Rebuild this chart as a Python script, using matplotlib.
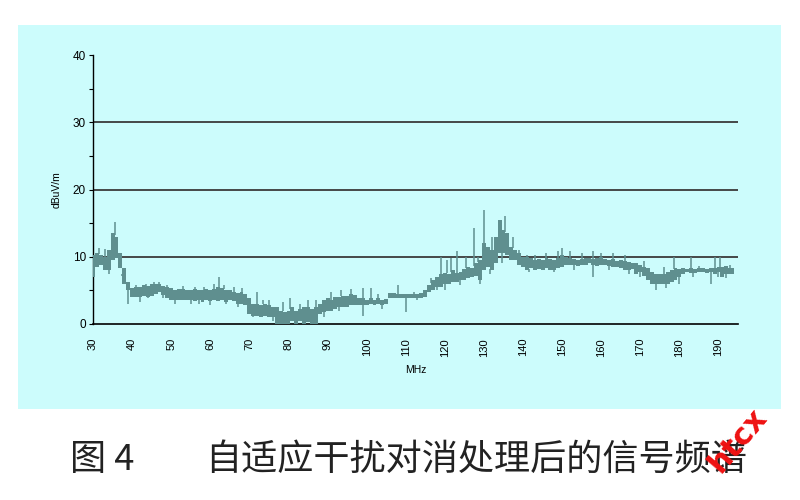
import numpy as np
import matplotlib
matplotlib.use('Agg')
from matplotlib import pyplot as plt

# spectrum after adaptive interference cancellation
# one bin per MHz: lower and upper edge of the trace band (dBuV/m)
freq = np.arange(30, 195)
band_lo = [7.0, 8.5, 8.7, 8.0, 8.0, 9.5, 9.8, 8.3, 6.0, 5.0,
           4.0, 4.0, 4.0, 4.2, 4.0, 4.2, 4.5, 4.8, 4.3, 3.8,
           3.5, 3.5, 3.6, 3.5, 3.6, 3.5, 3.4, 3.5, 3.3, 3.5,
           3.4, 3.5, 3.4, 3.5, 3.3, 3.6, 3.4, 3.0, 3.0, 2.8,
           1.5, 1.2, 1.2, 1.0, 1.2, 1.0, 1.0, 0.0, 0.0, 0.0,
           0.0, 0.5, 0.0, 0.5, 0.0, 0.3, 0.0, 0.0, 1.5, 1.8,
           2.0, 2.0, 2.2, 2.5, 2.5, 2.5, 2.8, 2.8, 2.8, 2.8,
           2.8, 3.0, 2.8, 2.9, 2.8, 3.0, 3.8, 3.8, 3.8, 3.9,
           3.8, 3.8, 3.9, 3.8, 3.9, 4.0, 4.8, 5.0, 5.5, 5.5,
           6.0, 6.0, 6.2, 6.2, 6.5, 6.5, 6.8, 7.0, 7.2, 6.5,
           8.0, 8.5, 8.0, 9.0, 10.5, 10.5, 10.2, 9.5, 9.5, 8.8,
           8.5, 8.0, 8.3, 8.0, 8.2, 8.0, 8.3, 8.0, 8.0, 8.3,
           8.5, 8.8, 8.8, 8.8, 8.6, 8.8, 8.8, 9.0, 8.8, 8.6,
           8.8, 8.8, 8.6, 8.5, 8.5, 8.3, 8.0, 8.0, 8.2, 7.5,
           7.8, 7.2, 6.5, 6.0, 6.0, 6.0, 6.0, 6.0, 6.2, 6.5,
           7.0, 7.5, 7.8, 7.6, 7.6, 7.7, 7.7, 7.6, 7.7, 7.5,
           7.8, 7.0, 7.5, 7.4, 7.5]
band_hi = [10.3, 10.5, 10.2, 10.0, 11.0, 13.5, 13.0, 10.5, 8.3, 6.3,
           5.4, 5.5, 5.5, 5.8, 5.6, 6.0, 6.0, 6.0, 5.6, 5.5,
           5.3, 5.0, 5.2, 5.2, 5.0, 5.0, 5.2, 5.0, 5.0, 5.2,
           5.0, 5.2, 5.5, 5.3, 5.0, 5.0, 4.8, 4.6, 4.8, 4.5,
           3.8, 3.0, 3.0, 2.8, 3.0, 2.8, 2.6, 2.5, 2.0, 1.8,
           2.0, 2.5, 2.0, 2.3, 2.5, 2.5, 2.2, 2.5, 3.0, 3.5,
           3.8, 3.6, 4.0, 4.0, 4.2, 4.2, 4.5, 4.3, 3.8, 3.8,
           3.6, 3.8, 3.6, 3.8, 3.6, 3.7, 4.6, 4.6, 4.4, 4.5,
           4.4, 4.5, 4.5, 4.5, 4.6, 5.0, 5.8, 6.5, 7.0, 7.5,
           7.6, 7.5, 8.0, 7.6, 7.8, 8.2, 8.5, 8.3, 9.0, 9.5,
           12.0, 11.5, 11.0, 13.0, 15.5, 14.0, 13.5, 11.5, 11.0, 10.5,
           10.0, 10.0, 9.8, 9.5, 9.6, 9.5, 9.8, 9.6, 9.5, 9.8,
           10.3, 10.0, 9.8, 9.6, 9.5, 9.6, 9.8, 9.8, 9.6, 9.8,
           10.0, 9.6, 9.5, 9.6, 9.3, 9.5, 9.3, 9.2, 9.0, 9.0,
           8.8, 8.5, 8.3, 7.8, 7.5, 7.5, 7.5, 7.8, 8.0, 8.3,
           8.2, 8.3, 8.2, 8.3, 8.2, 8.3, 8.3, 8.2, 8.3, 8.4,
           8.5, 8.5, 8.6, 8.4, 8.3]

# single-sample spikes above the band
spike_f = [31.5, 33, 35.5, 36.8, 41, 43.5, 45.5, 47, 49, 53, 56, 58.5, 61, 62.2,
           63.5, 66, 68, 72, 73.5, 75, 78.5, 80.5, 83, 85, 87, 91, 93.5, 96, 99,
           101, 103, 108, 112, 116.5, 119, 120.5, 121.5, 123, 125.5, 127.5, 128.5,
           130, 132, 135.5, 137.5, 139, 141, 143, 146, 149, 150, 152, 155, 158,
           160, 163, 166, 171, 176, 178.5, 183, 185, 189, 190.5, 193]
spike_top = [11.3, 11.2, 15.2, 11.0, 5.8, 6.0, 6.3, 6.3, 5.8, 5.6, 5.5, 5.5, 6.0, 7.0,
             5.8, 5.5, 5.3, 4.8, 3.5, 3.6, 3.2, 3.8, 3.0, 3.5, 3.5, 4.8, 5.0, 5.2, 5.3,
             5.3, 4.5, 5.8, 4.8, 6.8, 10.0, 9.5, 9.8, 10.8, 10.0, 14.3, 10.0,
             17.0, 13.0, 16.0, 13.0, 11.0, 10.3, 10.3, 10.5, 10.8, 11.3, 10.8, 10.5, 10.8,
             10.5, 10.5, 10.3, 9.3, 8.5, 10.0, 10.0, 8.6, 10.0, 10.0, 8.8]
# single-sample dips below the band
dip_f = [30.3, 34, 37.5, 39, 42, 44, 48, 51, 55, 57, 60, 64, 67, 71, 76, 82,
         89, 93, 99, 104, 110, 113, 118, 120, 124, 129, 131.5, 134.5, 141.5, 145,
         148, 153, 158, 162, 167, 170, 174, 176.5, 180, 183.5, 188, 190, 192]
dip_bottom = [7.0, 7.5, 7.5, 3.0, 3.2, 3.8, 3.8, 3.0, 3.0, 3.0, 2.8, 3.0, 2.5, 1.0, 0.5, 0.0,
              1.0, 2.0, 1.2, 2.2, 1.8, 3.5, 5.0, 5.0, 5.8, 6.0, 7.5, 9.0, 7.7, 8.0,
              7.7, 8.0, 7.0, 8.0, 7.5, 7.0, 5.0, 5.3, 6.0, 7.0, 6.0, 7.0, 6.8]

trace_col = '#5f8f8f'
panel_col = '#ccfcfc'

plt.rcParams['font.family'] = ['Liberation Sans', 'DejaVu Sans']

fig = plt.figure(figsize=(8, 5), dpi=100)
fig.patch.set_facecolor('white')

# light cyan panel behind the chart
bg = fig.add_axes([0.0225, 0.182, 0.954, 0.768], zorder=-1)
bg.set_facecolor(panel_col)
bg.set_xticks([])
bg.set_yticks([])
for s in bg.spines.values():
    s.set_visible(False)

ax = fig.add_axes([0.11625, 0.352, 0.80625, 0.538])
ax.set_facecolor('none')
ax.fill_between(freq, band_lo, band_hi, step='mid', color=trace_col, linewidth=0, zorder=3)
ax.vlines(spike_f, np.interp(spike_f, freq, band_hi), spike_top, color=trace_col, linewidth=1.1, zorder=3)
ax.vlines(dip_f, dip_bottom, np.interp(dip_f, freq, band_lo), color=trace_col, linewidth=1.1, zorder=3)

ax.set_xlim(30, 195)
ax.set_ylim(0, 40)
ax.set_yticks([0, 10, 20, 30, 40])
ax.set_yticks([5, 15, 25, 35], minor=True)
ax.set_xticks(range(30, 191, 10))
ax.set_xticklabels([str(v) for v in range(30, 191, 10)], rotation=90, fontsize=8)
ax.tick_params(axis='x', length=0, pad=10)
ax.tick_params(axis='y', which='both', length=3, width=0.8, labelsize=8.5, pad=2)
for v in [10, 20, 30]:
    ax.axhline(v, color='#3a3a3a', linewidth=1.3, zorder=2)
for s in ['top', 'right']:
    ax.spines[s].set_visible(False)
ax.spines['left'].set_linewidth(1.0)
ax.spines['bottom'].set_linewidth(1.2)
ax.set_ylabel('dBuV/m', fontsize=7.5, labelpad=8)
ax.set_xlabel('MHz', fontsize=7.5, labelpad=6)

cjk = ['Noto Sans CJK SC', 'DejaVu Sans']
fig.text(70 / 800, 0.08, '图 4', fontsize=26, family=cjk, fontweight='light',
         va='center', ha='left', color='#222222')
fig.text(205 / 800, 0.08, '自适应干扰对消处理后的信号频谱', fontsize=26, family=cjk,
         fontweight='light', va='center', ha='left', color='#222222')
fig.text(738 / 800, 1 - 440 / 500, 'htcx', fontsize=22, fontweight='bold', color='#ee1111',
         rotation=50, ha='center', va='center', family='DejaVu Sans')

fig.savefig('out.png', dpi=100)
